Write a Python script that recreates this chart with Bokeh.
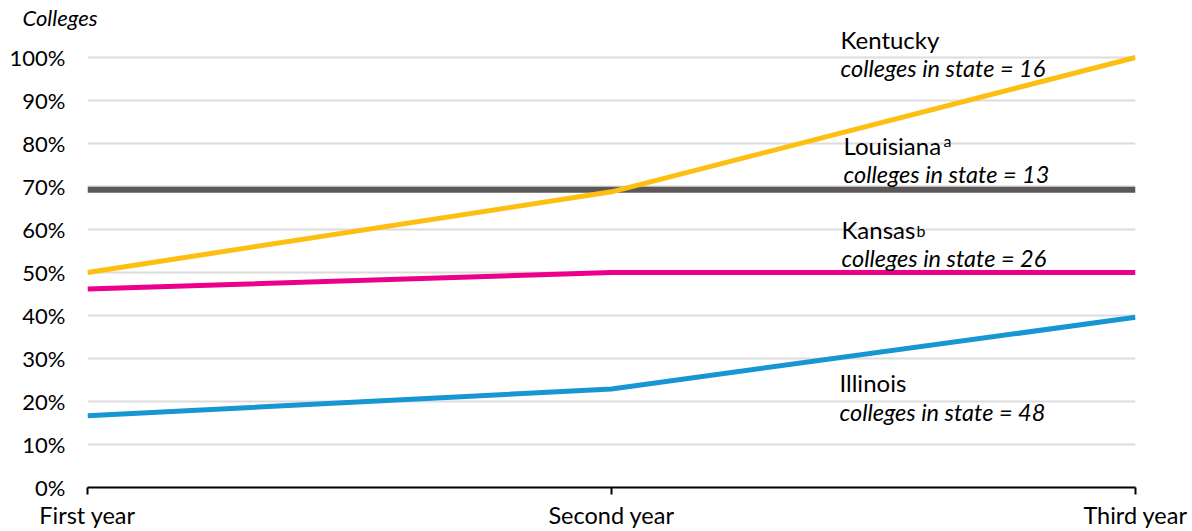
from bokeh.plotting import figure
from bokeh.models import Range1d, FixedTicker, PrintfTickFormatter, Label
from bokeh.embed import file_html
from bokeh.resources import INLINE

years = ["First year", "Second year", "Third year"]
kentucky = [50.0, 68.75, 100.0]
louisiana = [69.23, 69.23, 69.23]
kansas = [46.15, 50.0, 50.0]
illinois = [16.67, 22.92, 39.58]
y_ticks = list(range(0, 101, 10))

FONT = "Lato"
x = list(range(len(years)))
TOP = 27

p = figure(width=1192, height=531, output_backend="svg", toolbar_location=None,
           x_range=Range1d(0, len(years) - 1), y_range=Range1d(0, (488 - TOP) / 4.31),
           min_border_left=87, min_border_right=57, min_border_top=TOP, min_border_bottom=43,
           title="Colleges")
p.outline_line_color = None
p.background_fill_color = "white"
p.border_fill_color = "white"

p.title.align = "left"
p.title.offset = -65
p.title.standoff = -7
p.title.text_font = FONT
p.title.text_font_style = "italic"
p.title.text_font_size = "22px"
p.title.text_color = "black"

p.xgrid.visible = False
p.ygrid.ticker = FixedTicker(ticks=[t for t in y_ticks if t > 0])
p.ygrid.grid_line_color = "#dcdcdc"
p.ygrid.grid_line_width = 2

p.yaxis.ticker = FixedTicker(ticks=y_ticks)
p.yaxis.formatter = PrintfTickFormatter(format="%d%%")
p.yaxis.axis_line_color = None
p.yaxis.major_tick_line_color = None
p.yaxis.minor_tick_line_color = None
p.yaxis.major_tick_out = 0
p.yaxis.major_tick_in = 0
p.yaxis.major_label_standoff = 22
p.yaxis.major_label_text_font = FONT
p.yaxis.major_label_text_font_size = "22px"
p.yaxis.major_label_text_color = "black"

p.xaxis.ticker = FixedTicker(ticks=x)
p.xaxis.major_label_overrides = {i: s for i, s in enumerate(years)}
p.xaxis.axis_line_color = "black"
p.xaxis.axis_line_width = 2
p.xaxis.major_tick_line_color = "black"
p.xaxis.major_tick_line_width = 2
p.xaxis.major_tick_out = 7
p.xaxis.major_tick_in = 0
p.xaxis.minor_tick_line_color = None
p.xaxis.major_label_standoff = 6
p.xaxis.major_label_text_font = FONT
p.xaxis.major_label_text_font_size = "23.5px"
p.xaxis.major_label_text_color = "black"

p.line(x, louisiana, line_color="#5c5859", line_width=6)
p.line(x, illinois, line_color="#1696d2", line_width=5)
p.line(x, kansas, line_color="#ec008b", line_width=5)
p.line(x, kentucky, line_color="#fdbf11", line_width=5)

def to_x(px):
    return (px - 87) / 524.0

def to_y(py):
    return (488 - py) / 4.31

labels = [
    ("Kentucky", "colleges in state = 16", 840, 39, 68, None, 0, 0),
    ("Louisiana", "colleges in state = 13", 843, 145, 174, "a", 100, 140),
    ("Kansas", "colleges in state = 26", 841, 229, 258, "b", 75, 230),
    ("Illinois", "colleges in state = 48", 839, 383, 412, None, 0, 0),
]
for name, sub, px, py1, py2, sup, supdx, supy in labels:
    p.add_layout(Label(x=to_x(px), y=to_y(py1), text=name, text_font=FONT,
                       text_font_size="24px", text_color="black",
                       text_baseline="middle", text_align="left"))
    p.add_layout(Label(x=to_x(px), y=to_y(py2), text=sub, text_font=FONT,
                       text_font_style="italic", text_font_size="23.5px",
                       text_color="black", text_baseline="middle", text_align="left"))
    if sup:
        p.add_layout(Label(x=to_x(px), y=to_y(supy), x_offset=supdx, text=sup,
                           text_font=FONT, text_font_size="16px", text_color="black",
                           text_baseline="alphabetic", text_align="left"))

open("out.html", "w").write(file_html(p, INLINE))
